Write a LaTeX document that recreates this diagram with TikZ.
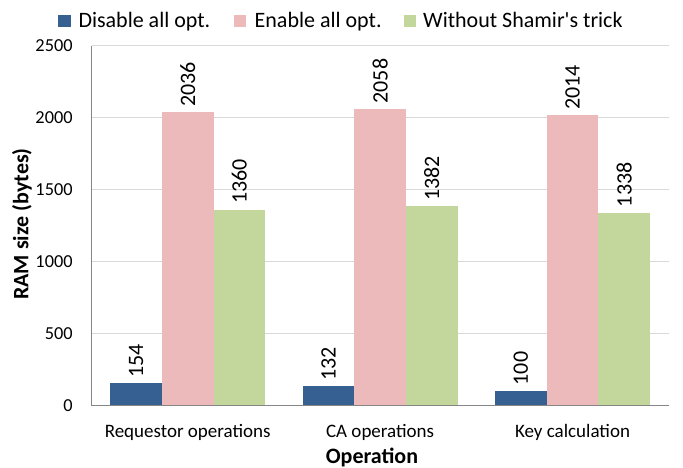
\documentclass[tikz,border=0pt]{standalone}
\usepackage{fontspec}
\setmainfont{Carlito}
\definecolor{barblue}{RGB}{55,96,146}
\definecolor{barpink}{RGB}{236,186,186}
\definecolor{bargreen}{RGB}{195,214,155}
\definecolor{gridgray}{RGB}{217,217,217}
\definecolor{axisgray}{RGB}{134,134,134}
\begin{document}
\begin{tikzpicture}[x=1pt,y=-1pt,
  ticklbl/.style={font=\fontsize{18.3}{20}\selectfont, anchor=east, inner sep=0pt},
  catlbl/.style={font=\fontsize{19}{22}\selectfont, anchor=base, inner sep=0pt},
  vallbl/.style={font=\fontsize{22}{24}\selectfont, rotate=90, anchor=west, inner sep=0pt},
  legtext/.style={font=\fontsize{22}{24}\selectfont, anchor=base west, inner sep=0pt},
  axtitle/.style={font=\bfseries\fontsize{22}{24}\selectfont, anchor=base, inner sep=0pt},
  gridline/.style={draw=gridgray, line width=1.2pt},
  axisline/.style={draw=axisgray, line width=1pt}]
\useasboundingbox (0,0) rectangle (683,468);
\fill[white] (0,0) rectangle (683,468);
% gridlines
\foreach \v in {500,1000,...,2500}
  \draw[gridline] (91.5,{405.5-\v*0.144}) -- (668.7,{405.5-\v*0.144});
% tick labels
\foreach \v in {0,500,...,2500}
  \node[ticklbl] (t\v) at (72.8,{405.5-\v*0.144}) {\v};
% bars and value labels
\foreach \i/\a/\b/\c/\nm in {0/154/2036/1360/Requestor operations,1/132/2058/1382/CA operations,2/100/2014/1338/Key calculation}{
  \pgfmathsetmacro\cx{187.7+192.4*\i}
  \fill[barblue] ({\cx-77.4},405.5) rectangle ({\cx-25.8},{405.5-\a*0.144});
  \fill[barpink] ({\cx-25.8},405.5) rectangle ({\cx+25.8},{405.5-\b*0.144});
  \fill[bargreen] ({\cx+25.8},405.5) rectangle ({\cx+77.4},{405.5-\c*0.144});
  \node[vallbl] (va\i) at ({\cx-51.6},{405.5-\a*0.144-5.6}) {\a};
  \node[vallbl] (vb\i) at ({\cx},{405.5-\b*0.144-5.6}) {\b};
  \node[vallbl] (vc\i) at ({\cx+51.6},{405.5-\c*0.144-5.6}) {\c};
  \node[catlbl] (cat\i) at ({\cx},437.7) {\nm};
}
% axes
\draw[axisline] (91.5,45.7) -- (91.5,405.5) -- (668.7,405.5);
% axis titles
\node[axtitle, rotate=90] (ytitle) at (28.3,224) {RAM size (bytes)};
\node[axtitle] (xtitle) at (372,463.5) {Operation};
% legend
\fill[barblue] (58.3,14.8) rectangle (70.7,27.2);
\node[legtext] (leg1) at (78.3,27.5) {Disable all opt.};
\fill[barpink] (234,14.8) rectangle (246.4,27.2);
\node[legtext] (leg2) at (254.5,27.5) {Enable all opt.};
\fill[bargreen] (404,14.8) rectangle (416.4,27.2);
\node[legtext] (leg3) at (423,27.5) {Without Shamir\textquotesingle s trick};
\end{tikzpicture}
\end{document}
